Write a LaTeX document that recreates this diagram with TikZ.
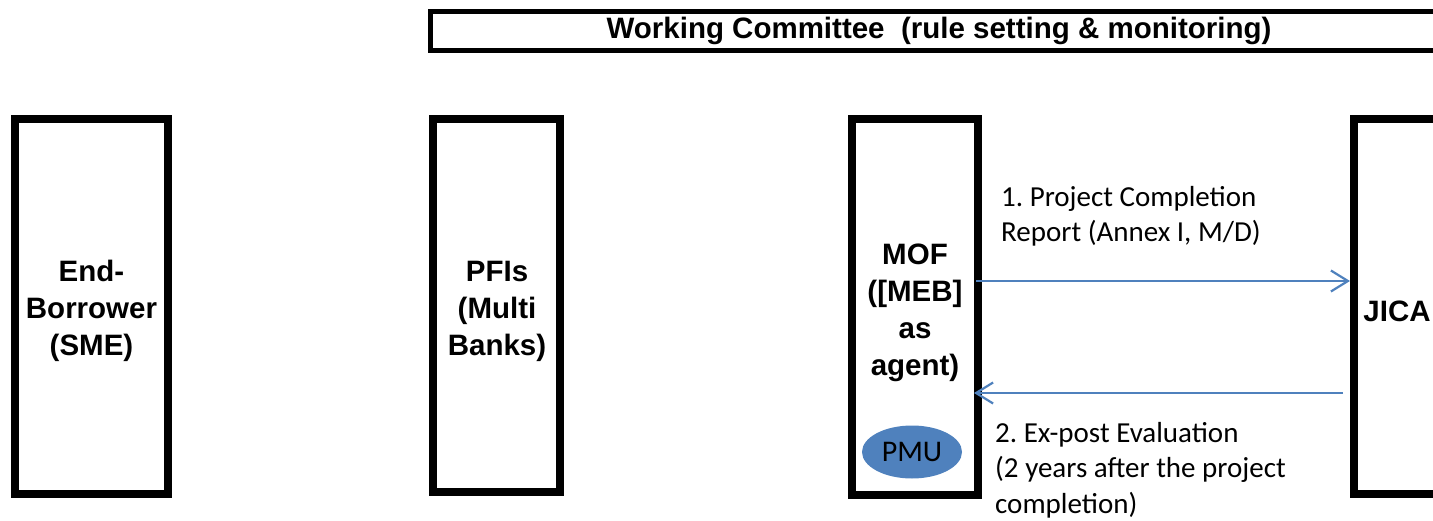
\documentclass[tikz,border=0pt]{standalone}
\usepackage{fontspec}
\setmainfont{Liberation Sans}
\newfontfamily\calib{Carlito}
\usetikzlibrary{arrows.meta,shapes.geometric}
\definecolor{officeblue}{HTML}{4F81BD}
\frenchspacing
\tikzset{
  bigbox/.style={draw=black, line width=8pt, inner sep=0pt},
  boxlabel/.style={align=center, inner sep=0pt,
    font=\fontsize{29.5}{37}\selectfont\bfseries},
  topbar/.style={draw=black, line width=5pt, inner sep=0pt},
  flow/.style={draw=officeblue, line width=2.2pt, -{Straight Barb[length=17pt, width=21pt, line width=2.2pt]}},
  note/.style={align=left, anchor=north west, inner sep=0pt,
    font=\calib\fontsize{29}{35.5}\selectfont},
  pmu/.style={ellipse, fill=officeblue, draw=none, minimum width=100pt, minimum height=53pt, inner sep=0pt,
    font=\calib\fontsize{30}{32}\selectfont}
}
\begin{document}
\begin{tikzpicture}[x=1pt,y=-1pt]
\useasboundingbox (0,0) rectangle (1433,521);
\clip (0,0) rectangle (1433,521);
\node[topbar, minimum width=1040, minimum height=39, anchor=north west] (wc) at (428,9) {};
\node[font=\fontsize{29.5}{34}\selectfont\bfseries, inner sep=0pt] (wct) at (939,31) {Working Committee\ \ (rule setting \& monitoring)};
\node[bigbox, minimum width=153, minimum height=375] (eb) at (91.5,306.5) {};
\node[boxlabel] (ebt) at (91.5,311) {End-\\Borrower\\(SME)};
\node[bigbox, minimum width=127, minimum height=373] (pfi) at (496.5,305.5) {};
\node[boxlabel] (pfit) at (497,311) {PFIs\\(Multi\\Banks)};
\node[bigbox, minimum width=126, minimum height=376] (mof) at (915,307) {};
\node[boxlabel] (moft) at (915,313) {MOF\\([MEB]\\as\\agent)};
\node[bigbox, minimum width=100, minimum height=375, anchor=west] (jica) at (1350,306.5) {};
\node[boxlabel] (jicat) at (1397,311) {JICA};
\node[pmu] (pmu) at (912,452) {\raisebox{-4pt}{PMU}};
\coordinate (a1s) at (976,281);
\coordinate (a1e) at (1350,281);
\coordinate (a2s) at (1343,393);
\coordinate (a2e) at (974,393);
\draw[flow] (a1s) -- (a1e);
\draw[flow] (a2s) -- (a2e);
\node[note] (n1) at (1001,186) {1. Project Completion\\Report (Annex I, M/D)};
\node[note] (n2) at (995,422) {2. Ex-post Evaluation\\(2 years after the project\\completion)};
\end{tikzpicture}
\end{document}
